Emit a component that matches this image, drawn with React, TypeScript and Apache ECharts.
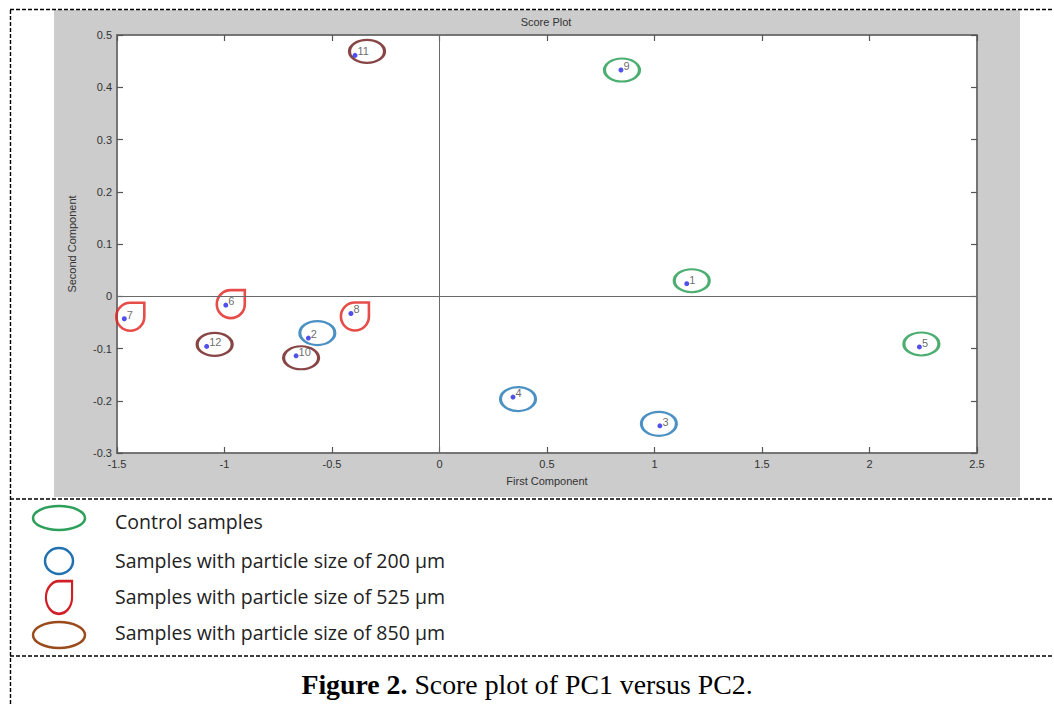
import React, { useEffect, useRef } from "react";
import * as echarts from "echarts";

// ---- data ----
const sampleIds = ["1", "2", "3", "4", "5", "6", "7", "8", "9", "10", "11", "12"];
const pc1 = [1.15, -0.61, 1.025, 0.342, 2.232, -0.994, -1.466, -0.412, 0.844, -0.667, -0.393, -1.083];
const pc2 = [0.024, -0.08, -0.248, -0.193, -0.097, -0.017, -0.043, -0.033, 0.433, -0.114, 0.461, -0.096];
const sampleGroup = [0, 1, 1, 1, 0, 2, 2, 2, 0, 3, 3, 3];
const groupNames = [
  "Control samples",
  "Samples with particle size of 200 µm",
  "Samples with particle size of 525 µm",
  "Samples with particle size of 850 µm",
];
const chartTitle = "Score Plot";
const xTitle = "First Component";
const yTitle = "Second Component";

// ---- styling ----
const ringColors = ["#1f9a4c", "#1f76b4", "#e0201c", "#6a1616"];
const legendColors = ["#2c9f5a", "#2271b0", "#cf2027", "#9a4b1c"];
const ELLIPSE = "path://M0,12 A18,12 0 1 1 36,12 A18,12 0 1 1 0,12 Z";
const DROP_D = "M15,1 L29,1 L29,15 A14,14 0 1 1 15,1 Z";
const DROP = "path://" + DROP_D;
const ringSymbol = [ELLIPSE, ELLIPSE, DROP, ELLIPSE];
const ringSize = [[35, 23], [35, 24], [28, 28], [35, 23]];
const ringShift = [[5, -3], [9, -5], [-1, -2], [5, 2], [2, -3], [5, -1], [6, -2], [4, 3], [1, 0], [5, 2], [12, -4], [8, -2]];

echarts.graphic.registerShape("drop", echarts.graphic.extendPath(DROP_D, {}));

export default function App() {
  const ref = useRef<HTMLDivElement>(null);
  useEffect(() => {
    if (!ref.current) return;
    const chart = echarts.init(ref.current, undefined, { renderer: "svg" });

    const ringSeries = groupNames.map((name, g) => ({
      type: "scatter",
      name,
      xAxisIndex: 0,
      yAxisIndex: 0,
      z: 3,
      silent: true,
      data: pc1
        .map((x, i) => ({ i, x }))
        .filter((d) => sampleGroup[d.i] === g)
        .map((d) => ({
          value: [d.x, pc2[d.i]],
          symbolOffset: ringShift[d.i],
        })),
      symbol: ringSymbol[g],
      symbolSize: ringSize[g],
      symbolKeepAspect: false,
      itemStyle: { color: "rgba(0,0,0,0)", borderColor: ringColors[g], borderWidth: 2.6 },
    }));

    const dash = (x1: number, y1: number, x2: number, y2: number, w = 1.4) => ({
      type: "line",
      z: 10,
      silent: true,
      shape: { x1, y1, x2, y2 },
      style: { stroke: "#000", lineWidth: w, lineDash: [4, 2] },
    });

    const legendY = [521, 560, 596, 632];
    const legendIcons: any[] = [
      { type: "ellipse", shape: { cx: 59, cy: 518, rx: 26, ry: 12 }, style: { fill: "none", stroke: legendColors[0], lineWidth: 2.5 } },
      { type: "ellipse", shape: { cx: 59, cy: 561, rx: 14, ry: 13 }, style: { fill: "none", stroke: legendColors[1], lineWidth: 2.5 } },
      { type: "drop", x: 45, y: 580, scaleX: 28 / 30, scaleY: 35 / 30, style: { fill: "none", stroke: legendColors[2], lineWidth: 2.4, strokeNoScale: true } },
      { type: "ellipse", shape: { cx: 59, cy: 635, rx: 26, ry: 13 }, style: { fill: "none", stroke: legendColors[3], lineWidth: 2.5 } },
    ];

    const baseAxis = {
      type: "value",
      axisTick: { show: true, inside: true, length: 6, lineStyle: { color: "#555", width: 1.2 } },
      splitLine: { show: false },
      axisLine: { show: true, onZero: false, lineStyle: { color: "#6e6e6e", width: 1.5 } },
    };

    const option: any = {
      animation: false,
      backgroundColor: "#fff",
      grid: {
        left: 117,
        top: 35,
        right: 77,
        bottom: 251,
        show: true,
        backgroundColor: "#fff",
        borderColor: "#6e6e6e",
        borderWidth: 1.5,
      },
      xAxis: [
        {
          ...baseAxis,
          position: "bottom",
          min: -1.5,
          max: 2.5,
          interval: 0.5,
          axisLabel: { color: "#333", fontSize: 11, fontFamily: "Liberation Sans", margin: 5 },
          name: xTitle,
          nameLocation: "middle",
          nameGap: 22,
          nameTextStyle: { color: "#333", fontSize: 11, fontFamily: "Liberation Sans" },
        },
        {
          ...baseAxis,
          position: "top",
          min: -1.5,
          max: 2.5,
          interval: 0.5,
          axisLabel: { show: false },
        },
      ],
      yAxis: [
        {
          ...baseAxis,
          position: "left",
          min: -0.3,
          max: 0.5,
          interval: 0.1,
          axisLabel: { color: "#333", fontSize: 11, fontFamily: "Liberation Sans", margin: 5 },
          name: yTitle,
          nameLocation: "middle",
          nameGap: 40,
          nameRotate: 90,
          nameTextStyle: { color: "#333", fontSize: 11, fontFamily: "Liberation Sans" },
        },
        {
          ...baseAxis,
          position: "right",
          min: -0.3,
          max: 0.5,
          interval: 0.1,
          axisLabel: { show: false },
        },
      ],
      series: [
        {
          type: "scatter",
          xAxisIndex: 0,
          yAxisIndex: 0,
          z: 4,
          silent: true,
          data: pc1.map((x, i) => ({ value: [x, pc2[i]], name: sampleIds[i] })),
          symbol: "circle",
          symbolSize: 5,
          itemStyle: { color: "#2424e6" },
          label: {
            show: true,
            formatter: (p: any) => p.name,
            position: "right",
            distance: 0,
            offset: [0, -4],
            color: "#444",
            fontSize: 11,
            fontFamily: "Liberation Sans",
          },
          markLine: {
            silent: true,
            symbol: "none",
            label: { show: false },
            lineStyle: { color: "#6a6a6a", width: 1, type: "solid" },
            data: [{ xAxis: 0 }, { yAxis: 0 }],
          },
        },
        ...ringSeries,
      ],
      graphic: [
        { type: "rect", z: -10, silent: true, shape: { x: 54, y: 10, width: 966, height: 487 }, style: { fill: "#cccccc" } },
        {
          type: "text",
          z: 5,
          x: 546,
          y: 22,
          style: { text: chartTitle, fill: "#333", fontSize: 11, fontFamily: "Liberation Sans", align: "center", verticalAlign: "middle" },
        },
        dash(10, 9.5, 1054, 9.5),
        dash(10.5, 10, 10.5, 704),
        dash(10, 499, 1054, 499),
        dash(10, 656, 1054, 656),
        ...legendIcons.map((e) => ({ ...e, z: 5, silent: true })),
        ...groupNames.map((t, i) => ({
          type: "text",
          z: 5,
          x: 115,
          y: legendY[i],
          style: { text: t, fill: "#222", fontSize: 19.5, fontFamily: "Open Sans", verticalAlign: "middle" },
        })),
        {
          type: "text",
          z: 5,
          x: 527,
          y: 684,
          style: {
            text: "{b|Figure 2.} Score plot of PC1 versus PC2.",
            fill: "#000",
            fontSize: 27.8,
            fontFamily: "Liberation Serif",
            align: "center",
            verticalAlign: "middle",
            rich: { b: { fontWeight: "bold", fontSize: 27.8, fontFamily: "Liberation Serif", fill: "#000" } },
          },
        },
      ],
    };
    chart.setOption(option);
    return () => chart.dispose();
  }, []);
  return <div ref={ref} style={{ position: "absolute", left: 0, top: 0, width: 1054, height: 704 }} />;
}
